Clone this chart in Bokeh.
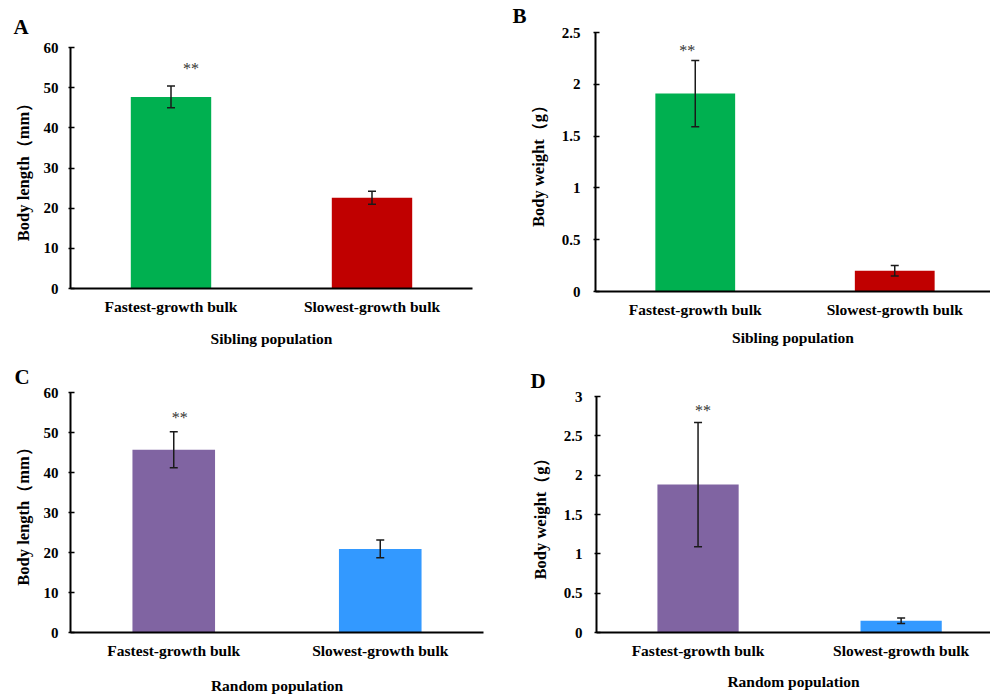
from bokeh.plotting import figure
from bokeh.layouts import column, row
from bokeh.models import (Range1d, FixedTicker, CustomJSTickFormatter, ColumnDataSource,
                          Whisker, TeeHead, Title)
from bokeh.embed import file_html
from bokeh.resources import INLINE
from bokeh.core.properties import value

# ---------------- data ----------------
categories = ["Fastest-growth bulk", "Slowest-growth bulk"]
significance = ["**", ""]

sib_length = [47.7, 22.6]
sib_length_err = [2.7, 1.6]
sib_weight = [1.91, 0.20]
sib_weight_err = [0.32, 0.05]
rnd_length = [45.7, 20.9]
rnd_length_err = [4.5, 2.2]
rnd_weight = [1.88, 0.15]
rnd_weight_err = [0.79, 0.035]

sib_colors = ["#00B050", "#C00000"]
rnd_colors = ["#8064A2", "#3399FF"]

length_ticks = [0, 10, 20, 30, 40, 50, 60]
sib_weight_ticks = [0, 0.5, 1, 1.5, 2, 2.5]
rnd_weight_ticks = [0, 0.5, 1, 1.5, 2, 2.5, 3]

FONT = "Liberation Serif"


def panel(letter, vals, errs, colors, yticks, ylabel, xlabel, width, height, margin,
          bl, br, bt, bb, xend, letter_off, letter_standoff, star_off,
          ytick_standoff, ylab_standoff, xlab_standoff):
    p = figure(width=width, height=height, output_backend="svg", toolbar_location=None,
               x_range=Range1d(0, xend), y_range=Range1d(yticks[0], yticks[-1]),
               min_border=0, min_border_left=bl, min_border_right=br,
               min_border_top=bt, min_border_bottom=bb, margin=margin)
    p.outline_line_color = None
    p.grid.visible = False
    p.background_fill_color = "white"
    p.border_fill_color = "white"

    p.add_layout(Title(text=letter, align="left", offset=letter_off, standoff=letter_standoff,
                       vertical_align="middle",
                       text_font=FONT, text_font_style="bold", text_font_size="21px",
                       text_color="black"), "above")

    xs = [i + 0.5 for i in range(len(categories))]
    upper = [v + e for v, e in zip(vals, errs)]
    lower = [v - e for v, e in zip(vals, errs)]
    src = ColumnDataSource(dict(x=xs, top=vals, upper=upper, lower=lower,
                                color=colors, sig=significance))

    p.vbar(x="x", top="top", bottom=0, width=0.4, fill_color="color",
           line_color=None, source=src)

    w = Whisker(source=src, base="x", upper="upper", lower="lower", dimension="height",
                line_color="#1a1a1a", line_width=1.5, level="annotation",
                upper_head=TeeHead(size=8, line_color="#1a1a1a", line_width=1.5),
                lower_head=TeeHead(size=8, line_color="#1a1a1a", line_width=1.5))
    p.add_layout(w)

    p.text(x="x", y="upper", text="sig", source=src, x_offset=star_off[0], y_offset=star_off[1],
           text_font=value(FONT), text_font_size="16px", text_color="#333333",
           text_align="center", text_baseline="middle")

    # x axis
    xa = p.xaxis[0]
    xa.ticker = FixedTicker(ticks=xs)
    xa.formatter = CustomJSTickFormatter(args=dict(labels=categories),
                                         code="return labels[Math.round(tick - 0.5)] || '';")
    xa.minor_tick_line_color = None
    xa.major_tick_line_color = None
    xa.axis_line_color = "black"
    xa.axis_line_width = 2
    xa.major_label_text_font = FONT
    xa.major_label_text_font_style = "bold"
    xa.major_label_text_font_size = "15.5px"
    xa.major_label_text_color = "black"
    xa.major_label_standoff = 3
    xa.axis_label = xlabel
    xa.axis_label_text_font = FONT
    xa.axis_label_text_font_style = "bold"
    xa.axis_label_text_font_size = "15.5px"
    xa.axis_label_text_color = "black"
    xa.axis_label_standoff = xlab_standoff

    # y axis
    ya = p.yaxis[0]
    ya.ticker = FixedTicker(ticks=yticks)
    ya.formatter = CustomJSTickFormatter(code="return String(Number(tick.toFixed(2)));")
    ya.minor_tick_line_color = None
    ya.major_tick_in = 4
    ya.major_tick_out = 2
    ya.major_tick_line_color = "black"
    ya.major_tick_line_width = 1.5
    ya.axis_line_color = "black"
    ya.axis_line_width = 2
    ya.major_label_text_font = FONT
    ya.major_label_text_font_style = "bold"
    ya.major_label_text_font_size = "15px"
    ya.major_label_text_color = "black"
    ya.major_label_standoff = ytick_standoff
    ya.axis_label = ylabel
    ya.axis_label_text_font = FONT
    ya.axis_label_text_font_style = "bold"
    ya.axis_label_text_font_size = "16.5px"
    ya.axis_label_text_color = "black"
    ya.axis_label_standoff = ylab_standoff
    return p


pA = panel("A", sib_length, sib_length_err, sib_colors, length_ticks,
           "Body length（mm）", "Sibling population",
           500, 355, (0, 0, 0, 0), 70, 28, 47, 67, 2.0, -57, 15, (20, -18), 10, 8, 12)
pB = panel("B", sib_weight, sib_weight_err, sib_colors, sib_weight_ticks,
           "Body weight（g）", "Sibling population",
           490, 355, (-4, 0, 0, 0), 95, 0, 36, 60, 1.98, -83, 7, (-8, -10), 13, 11, 8)
pC = panel("C", rnd_length, rnd_length_err, rnd_colors, length_ticks,
           "Body length（mm）", "Random population",
           500, 342, (0, 0, 0, 0), 70, 17, 37, 65, 2.0, -56, 6, (6, -14), 10, 8, 15)
pD = panel("D", rnd_weight, rnd_weight_err, rnd_colors, rnd_weight_ticks,
           "Body weight（g）", "Random population",
           490, 342, (0, 0, 0, 0), 96, 0, 41, 65, 1.94, -66, 5, (5, -12), 12, 11, 11)

# each figure sits in its own column so that their frames are not forced
# onto a common border by the row layout
layout = column(row(column(pA), column(pB)), row(column(pC), column(pD)))
open("out.html", "w").write(file_html(layout, INLINE))
